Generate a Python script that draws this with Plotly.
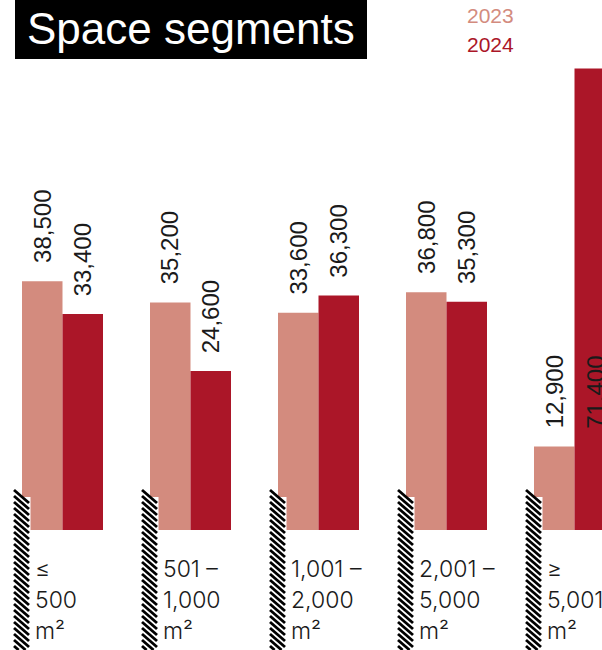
import plotly.graph_objects as go

# ---- data -------------------------------------------------------------
segments = ["≤ 500 m²", "501 – 1,000 m²", "1,001 – 2,000 m²", "2,001 – 5,000 m²", "≥ 5,001 m²"]
segment_lines = [
    ["≤", "500", "m²"],
    ["501 –", "1,000", "m²"],
    ["1,001 –", "2,000", "m²"],
    ["2,001 –", "5,000", "m²"],
    ["≥", "5,001", "m²"],
]
values_2023 = [38500, 35200, 33600, 36800, 12900]
values_2024 = [33400, 24600, 36300, 35300, 71400]
years = ["2023", "2024"]

# ---- style --------------------------------------------------------------
W, H = 602, 650
COL_2023 = "#D38B7E"
COL_2024 = "#AB1628"
BAR_PX = 40.5           # bar width in pixels
BASE_PX = 530           # baseline position from top
Y_MAX = 82000
LABEL_FONT = "Liberation Sans, Arial, sans-serif"
CAT_FONT = "Inter, DejaVu Sans, sans-serif"

idx = list(range(len(segments)))
fig = go.Figure()
for vals, col, name in [(values_2023, COL_2023, years[0]), (values_2024, COL_2024, years[1])]:
    fig.add_trace(go.Bar(x=idx, y=vals, name=name, marker=dict(color=col, line=dict(width=0)),
                         showlegend=False, hoverinfo="skip"))

annotations = []
shapes = []

def py(px):
    """pixel row (from top) -> paper y"""
    return 1 - px / H

# value labels, rotated, above each bar (tall last bar labelled beside its neighbour)
for i in idx:
    pair = [values_2023[i], values_2024[i]]
    anchor_vals = pair if max(pair) < 60000 else [min(pair), min(pair)]
    for k, (v, av) in enumerate(zip(pair, anchor_vals)):
        annotations.append(dict(
            x=i, y=av, xref="x", yref="y", text=f"{v:,}", showarrow=False,
            textangle=-90, xanchor="center", yanchor="bottom",
            xshift=(-0.5 if k == 0 else 0.5) * BAR_PX, yshift=16,
            font=dict(family=LABEL_FONT, size=24, color="#1a1a1a"),
        ))

# category labels, one line each, left aligned under the group
for i in idx:
    for j, line in enumerate(segment_lines[i]):
        annotations.append(dict(
            x=i, y=py(569 + 31 * j), xref="x", yref="paper", text=line, showarrow=False,
            xanchor="left", yanchor="middle", xshift=-30,
            font=dict(family=CAT_FONT, size=23, color="#1a1a1a", weight=300),
        ))

# hatched marker strip at the left of each group
STRIP_L, STRIP_R = -48.5, -33.5
HATCH_DY = 13
for i in idx:
    shapes.append(dict(type="rect", xref="x", xsizemode="pixel", xanchor=i,
                       x0=STRIP_L, x1=-32, yref="paper", y0=py(H), y1=py(497),
                       fillcolor="white", line=dict(width=0), layer="above"))
    y = 490.0
    while y < H:
        y_end = y + HATCH_DY
        x_end = STRIP_R
        if y_end > H:
            x_end = STRIP_L + (STRIP_R - STRIP_L) * (H - y) / HATCH_DY
            y_end = H
        shapes.append(dict(type="line", xref="x", xsizemode="pixel", xanchor=i,
                           x0=STRIP_L, x1=x_end, yref="paper", y0=py(y), y1=py(y_end),
                           line=dict(color="black", width=2.8), layer="above"))
        y += 6.0

# title block
shapes.append(dict(type="rect", xref="paper", yref="paper", x0=15 / W, x1=367 / W,
                   y0=py(59), y1=py(0), fillcolor="black", line=dict(width=0), layer="above"))
annotations.append(dict(x=191 / W, y=py(29), xref="paper", yref="paper", text="Space segments",
                        showarrow=False, xanchor="center", yanchor="middle",
                        font=dict(family=LABEL_FONT, size=44, color="white")))

# year key
for name, col, top in [(years[0], COL_2023, 15), (years[1], COL_2024, 44)]:
    annotations.append(dict(x=465 / W, y=py(top), xref="paper", yref="paper", text=name,
                            showarrow=False, xanchor="left", yanchor="middle",
                            font=dict(family=LABEL_FONT, size=21, color=col)))

center0 = 62.5
group_px = 128
fig.update_layout(
    width=W, height=H, margin=dict(l=0, r=0, t=0, b=0),
    paper_bgcolor="white", plot_bgcolor="white",
    barmode="group", bargap=1 - 2 * BAR_PX / group_px, bargroupgap=0,
    xaxis=dict(range=[-center0 / group_px, (W - center0) / group_px], visible=False,
               fixedrange=True),
    yaxis=dict(domain=[1 - BASE_PX / H, 1], range=[0, Y_MAX], visible=False, fixedrange=True),
    annotations=annotations, shapes=shapes, showlegend=False,
)

fig.write_html("out.html")
